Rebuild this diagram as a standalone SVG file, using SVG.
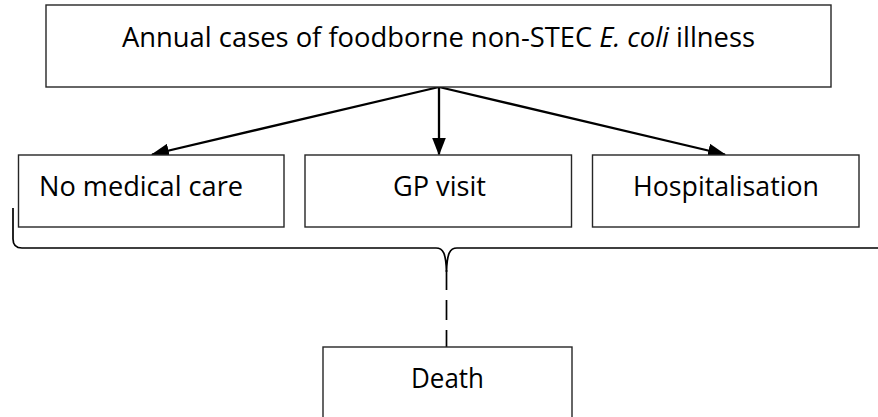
<svg xmlns="http://www.w3.org/2000/svg" width="878" height="417" viewBox="0 0 878 417">
  <defs>
    <marker id="arrowhead" viewBox="0 0 18 14" refX="17" refY="7" markerWidth="18" markerHeight="14" markerUnits="userSpaceOnUse" orient="auto">
      <path d="M0,0 L18,7 L0,14 Z" fill="#000"/>
    </marker>
    <style>
      .box { fill: #fff; stroke: #262626; stroke-width: 1.4; }
      .label { font-family: "Open Sans", "Liberation Sans", sans-serif; font-size: 26.5px; fill: #000; }
      .arrow { stroke: #000; stroke-width: 2.3; fill: none; marker-end: url(#arrowhead); }
      .brace { stroke: #000; stroke-width: 1.7; fill: none; }
    </style>
  </defs>
  <rect width="878" height="417" fill="#fff"/>

  <g id="connectors">
    <line class="arrow" x1="439" y1="87" x2="152" y2="154.5"/>
    <line class="arrow" x1="439" y1="87" x2="439" y2="154.5"/>
    <line class="arrow" x1="439" y1="87" x2="725" y2="154.5"/>
    <!-- curly brace grouping the three care levels -->
    <path class="brace" d="M13,208 L13,239 Q13,248 22,248 L436,248 C443,248 446,253 446.5,272 C447,253 450,248 457,248 L880,248"/>
    <line class="brace" x1="446.5" y1="270" x2="446.5" y2="290"/>
    <line class="brace" x1="446.5" y1="290" x2="446.5" y2="347" stroke-dasharray="20 10" stroke-dashoffset="20"/>
  </g>

  <g id="annual-cases">
    <rect class="box" x="46" y="5" width="785" height="82"/>
    <text class="label" x="122" y="47" textLength="633" lengthAdjust="spacingAndGlyphs">Annual cases of foodborne non-STEC <tspan font-style="italic">E. coli</tspan> illness</text>
  </g>

  <g id="no-medical-care">
    <rect class="box" x="18.5" y="155" width="265.5" height="72"/>
    <text class="label" x="39" y="196" textLength="204" lengthAdjust="spacingAndGlyphs">No medical care</text>
  </g>

  <g id="gp-visit">
    <rect class="box" x="305" y="155" width="266.5" height="72"/>
    <text class="label" x="393" y="196" textLength="93" lengthAdjust="spacingAndGlyphs">GP visit</text>
  </g>

  <g id="hospitalisation">
    <rect class="box" x="592.5" y="155" width="266.5" height="72"/>
    <text class="label" x="633" y="196" textLength="186" lengthAdjust="spacingAndGlyphs">Hospitalisation</text>
  </g>

  <g id="death">
    <rect class="box" x="323" y="347" width="249" height="80"/>
    <text class="label" x="411" y="388" textLength="73" lengthAdjust="spacingAndGlyphs">Death</text>
  </g>
</svg>
